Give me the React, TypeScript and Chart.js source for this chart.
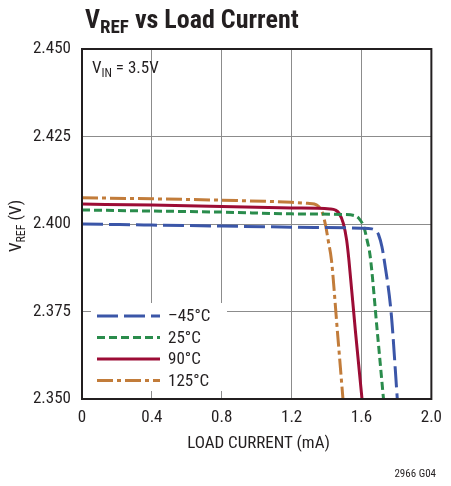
import React, { useEffect, useRef } from "react";
import { Chart, registerables } from "chart.js";

Chart.register(...registerables);

// ---- data ----
const xTicks = [0, 0.4, 0.8, 1.2, 1.6, 2.0];
const yTicks = [2.35, 2.375, 2.4, 2.425, 2.45];

const seriesLabels = ["\u201345\u00B0C", "25\u00B0C", "90\u00B0C", "125\u00B0C"];

const m45X = [0, 0.4, 0.8, 1.2, 1.6, 1.66, 1.685, 1.698, 1.717, 1.73, 1.77, 1.805];
const m45Y = [2.4, 2.3997, 2.3994, 2.3991, 2.3988, 2.3986, 2.3979, 2.3969, 2.3935, 2.3897, 2.3745, 2.35];

const t25X = [0, 0.4, 0.8, 1.2, 1.5, 1.56, 1.585, 1.613, 1.632, 1.65, 1.69, 1.726];
const t25Y = [2.404, 2.4037, 2.4034, 2.4029, 2.4027, 2.4024, 2.4016, 2.3992, 2.3954, 2.3907, 2.3695, 2.35];

const t90X = [0, 0.4, 0.8, 1.2, 1.42, 1.45, 1.471, 1.496, 1.515, 1.528, 1.565, 1.603];
const t90Y = [2.4057, 2.4054, 2.405, 2.4046, 2.4043, 2.404, 2.4031, 2.4002, 2.3954, 2.3897, 2.3695, 2.35];

const t125X = [0, 0.4, 0.8, 1.2, 1.292, 1.33, 1.348, 1.377, 1.396, 1.409, 1.428, 1.461, 1.494];
const t125Y = [2.4075, 2.4072, 2.4068, 2.4062, 2.4059, 2.4057, 2.4053, 2.4031, 2.3992, 2.3954, 2.3897, 2.37, 2.35];

const colors = ["#3b56a8", "#2a8c4c", "#9c0c35", "#c27c3a"];
const dashes: number[][] = [[21, 6], [8, 4], [], [16, 4, 4, 4]];

const FONT = '"Liberation Sans Narrow", "Roboto Condensed", "DejaVu Sans Condensed", sans-serif';
const INK = "#231f20";

function pts(xs: number[], ys: number[]) {
  return xs.map((x, i) => ({ x, y: ys[i] }));
}

function drawSub(
  ctx: CanvasRenderingContext2D,
  x: number,
  y: number,
  main: string,
  sub: string,
  rest: string,
  size: number,
  weight: string,
  subDrop: number
) {
  ctx.font = `${weight} ${size}px ${FONT}`;
  ctx.fillText(main, x, y);
  let cx = x + ctx.measureText(main).width;
  const subSize = Math.round(size * 0.72);
  ctx.font = `${weight} ${subSize}px ${FONT}`;
  ctx.fillText(sub, cx, y + subDrop);
  cx += ctx.measureText(sub).width;
  ctx.font = `${weight} ${size}px ${FONT}`;
  ctx.fillText(rest, cx, y);
}

const decorPlugin = {
  id: "decor",
  afterDatasetsDraw(chart: any) {
    const { ctx, chartArea } = chart;
    const { left, right, top, bottom } = chartArea;
    ctx.save();
    // legend box
    ctx.fillStyle = "#ffffff";
    ctx.fillRect(91, 303, 136, 88);
    const rowY = [316, 337.5, 359, 380.5];
    chart.data.datasets.forEach((ds: any, i: number) => {
      ctx.strokeStyle = ds.borderColor;
      ctx.lineWidth = 3;
      ctx.setLineDash(ds.borderDash || []);
      ctx.beginPath();
      ctx.moveTo(97, rowY[i]);
      ctx.lineTo(160, rowY[i]);
      ctx.stroke();
      ctx.setLineDash([]);
      ctx.fillStyle = INK;
      ctx.font = `17px ${FONT}`;
      ctx.textBaseline = "middle";
      ctx.textAlign = "left";
      ctx.fillText(ds.label, 168, rowY[i] + 1);
    });
    // frame
    ctx.setLineDash([]);
    ctx.strokeStyle = INK;
    ctx.lineWidth = 2;
    ctx.strokeRect(left, top, right - left, bottom - top);
    ctx.restore();
  },
  afterDraw(chart: any) {
    const { ctx } = chart;
    ctx.save();
    ctx.fillStyle = INK;
    ctx.textBaseline = "alphabetic";
    ctx.textAlign = "left";
    // title
    drawSub(ctx, 85, 28, "V", "REF", " vs Load Current", 26, "bold", 5);
    // V_IN annotation
    drawSub(ctx, 92, 73, "V", "IN", " = 3.5V", 17, "normal", 4);
    // footnote
    ctx.font = `11px ${FONT}`;
    ctx.textAlign = "right";
    ctx.fillText("2966 G04", 436, 477);
    // y-axis title
    ctx.translate(21, 226);
    ctx.rotate(-Math.PI / 2);
    ctx.textAlign = "left";
    ctx.font = `17px ${FONT}`;
    const w1 = ctx.measureText("V").width;
    ctx.font = `12px ${FONT}`;
    const w2 = ctx.measureText("REF").width;
    ctx.font = `17px ${FONT}`;
    const w3 = ctx.measureText(" (V)").width;
    const total = w1 + w2 + w3;
    drawSub(ctx, -total / 2, 0, "V", "REF", " (V)", 17, "normal", 4);
    ctx.restore();
  },
};

export default function App() {
  const ref = useRef<HTMLCanvasElement | null>(null);

  useEffect(() => {
    if (!ref.current) return;
    const sets = [pts(m45X, m45Y), pts(t25X, t25Y), pts(t90X, t90Y), pts(t125X, t125Y)];
    const chart = new Chart(ref.current, {
      type: "line",
      data: {
        datasets: sets.map((d, i) => ({
          label: seriesLabels[i],
          data: d,
          borderColor: colors[i],
          backgroundColor: colors[i],
          borderWidth: 3,
          borderDash: dashes[i],
          pointRadius: 0,
          fill: false,
          cubicInterpolationMode: "monotone" as const,
        })),
      },
      options: {
        responsive: false,
        animation: false,
        layout: { padding: { top: 49, right: 16, left: 0, bottom: 0 } },
        plugins: { legend: { display: false }, tooltip: { enabled: false } },
        scales: {
          x: {
            type: "linear",
            min: 0,
            max: 2,
            afterBuildTicks: (s: any) => {
              s.ticks = xTicks.map((v) => ({ value: v }));
            },
            afterFit: (s: any) => {
              s.height = 87;
            },
            ticks: {
              padding: 9,
              color: INK,
              font: { family: FONT, size: 17 },
              callback: (v: any) => (Number(v) === 0 ? "0" : Number(v).toFixed(1)),
            },
            grid: { color: "#8c8c8c", lineWidth: 1, drawTicks: false },
            border: { display: false },
          },
          y: {
            type: "linear",
            min: 2.35,
            max: 2.45,
            afterBuildTicks: (s: any) => {
              s.ticks = yTicks.map((v) => ({ value: v }));
            },
            afterFit: (s: any) => {
              s.width = 82;
            },
            ticks: {
              padding: 11,
              color: INK,
              font: { family: FONT, size: 17 },
              callback: (v: any) => Number(v).toFixed(3),
            },
            grid: { color: "#8c8c8c", lineWidth: 1, drawTicks: false },
            border: { display: false },
          },
        },
      },
      plugins: [decorPlugin],
    });
    return () => chart.destroy();
  }, []);

  return (
    <div style={{ position: "absolute", left: 0, top: 0, width: 451, height: 486, background: "#fff" }}>
      <canvas ref={ref} width={451} height={486} style={{ width: 451, height: 486 }} />
      <div
        style={{
          position: "absolute",
          left: 0,
          width: 517,
          top: 432,
          textAlign: "center",
          font: `17px ${FONT}`,
          color: INK,
          lineHeight: "20px",
        }}
      >
        LOAD CURRENT (mA)
      </div>
    </div>
  );
}
